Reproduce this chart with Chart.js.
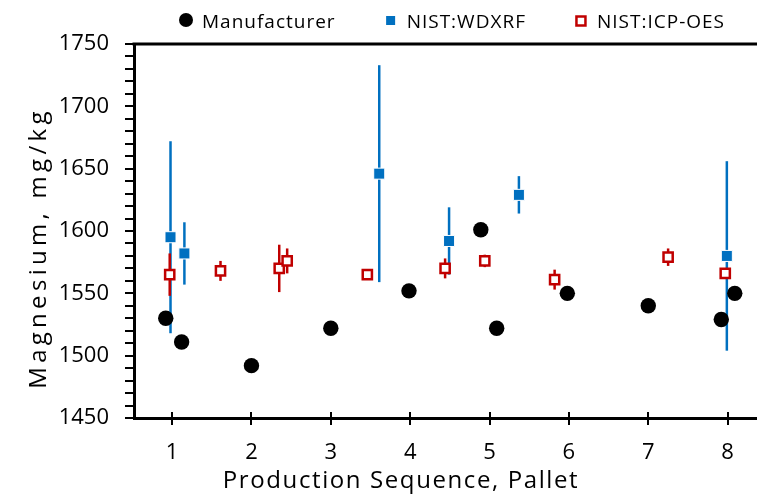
<!DOCTYPE html>
<html>
<head>
<meta charset="utf-8">
<script src="https://cdn.jsdelivr.net/npm/chart.js@4/dist/chart.umd.min.js"></script>
<style>
  html, body { margin: 0; padding: 0; background: #fff; }
  #wrap { width: 757px; height: 496px; }
</style>
</head>
<body>
<div id="wrap"><canvas id="chart"></canvas></div>
<script>
// Manufacturer values (no uncertainty)
const mfgX = [0.92, 1.12, 2.0, 3.0, 3.985, 4.89, 5.09, 5.98, 7.0, 7.92, 8.09];
const mfgY = [1530, 1511, 1492, 1522, 1552, 1601, 1522, 1550, 1540, 1529, 1550];

// NIST WDXRF with expanded uncertainty
const xrfX = [0.98, 1.155, 3.61, 4.49, 5.37, 7.99];
const xrfY = [1595, 1582, 1646, 1592, 1629, 1580];
const xrfErr = [77, 25, 87, 27, 15, 76];

// NIST ICP-OES with expanded uncertainty
const icpX = [0.97, 1.61, 2.35, 2.45, 3.46, 4.44, 4.94, 5.82, 7.25, 7.97];
const icpY = [1565, 1568, 1570, 1576, 1565, 1570, 1576, 1561, 1579, 1566];
const icpErr = [17, 8, 19, 10, 4, 8, 5, 8, 7, 4];

const seriesNames = ['Manufacturer', 'NIST:WDXRF', 'NIST:ICP-OES'];
const xTickMin = 0.52, xTickMax = 8.37;
const yMin = 1450, yMax = 1750;

const FONT = "'Open Sans', 'DejaVu Sans', sans-serif";
const BLUE = '#0070C0';
const RED = '#C00000';

function pts(xs, ys) {
    return xs.map((x, i) => ({ x: x, y: ys[i] }));
}

// vertical error bars, drawn under all markers
const errorBars = {
    id: 'errorBars',
    beforeDatasetsDraw(chart) {
        const { ctx, scales: { x, y } } = chart;
        chart.data.datasets.forEach(ds => {
            if (!ds.errors) return;
            ctx.save();
            ctx.strokeStyle = ds.errorColor;
            ctx.lineWidth = 2.5;
            ds.data.forEach((p, i) => {
                const px = x.getPixelForValue(p.x);
                ctx.beginPath();
                ctx.moveTo(px, y.getPixelForValue(p.y - ds.errors[i]));
                ctx.lineTo(px, y.getPixelForValue(p.y + ds.errors[i]));
                ctx.stroke();
            });
            ctx.restore();
        });
    }
};

// top frame line, crossing x ticks, axis titles and legend
const decorations = {
    id: 'decorations',
    afterDraw(chart) {
        const { ctx, chartArea: a, scales: { x } } = chart;
        ctx.save();
        ctx.strokeStyle = '#000';
        ctx.lineWidth = 3;
        ctx.beginPath();
        ctx.moveTo(a.left - 1.5, a.top);
        ctx.lineTo(chart.width, a.top);
        ctx.stroke();

        ctx.lineWidth = 2;
        x.ticks.forEach(t => {
            const px = Math.round(x.getPixelForValue(t.value));
            ctx.beginPath();
            ctx.moveTo(px, a.bottom - 6);
            ctx.lineTo(px, a.bottom);
            ctx.stroke();
        });

        // axis titles
        ctx.fillStyle = '#000';
        ctx.textAlign = 'center';
        ctx.textBaseline = 'alphabetic';
        ctx.font = '24px ' + FONT;
        ctx.letterSpacing = '1.6px';
        ctx.fillText('Production Sequence, Pallet', 401, 488);

        ctx.save();
        ctx.translate(46, 248);
        ctx.rotate(-Math.PI / 2);
        ctx.font = '24px ' + FONT;
        ctx.letterSpacing = '4.3px';
        ctx.fillText('Magnesium, mg/kg', 0, 0);
        ctx.restore();

        // legend
        ctx.font = '19px ' + FONT;
        ctx.letterSpacing = '1px';
        ctx.textAlign = 'left';
        let cx = 186;
        const cy = 21;
        chart.data.datasets.forEach((ds, i) => {
            if (i === 0) {
                ctx.fillStyle = '#000';
                ctx.beginPath();
                ctx.arc(cx, cy - 1, 7, 0, Math.PI * 2);
                ctx.fill();
            } else if (i === 1) {
                ctx.fillStyle = BLUE;
                ctx.fillRect(cx - 4.5, cy - 5, 9, 9);
            } else {
                ctx.fillStyle = '#fff';
                ctx.fillRect(cx - 4.5, cy - 4.5, 9, 9);
                ctx.strokeStyle = RED;
                ctx.lineWidth = 2.5;
                ctx.strokeRect(cx - 4.5, cy - 4.5, 9, 9);
            }
            ctx.fillStyle = '#000';
            const tx = cx + 16;
            ctx.fillText(ds.label, tx, 28);
            const w = ctx.measureText(ds.label).width;
            cx = tx + w + 55;
        });
        ctx.restore();
    }
};

new Chart(document.getElementById('chart'), {
    type: 'scatter',
    data: {
        datasets: [
            {
                label: seriesNames[0],
                data: pts(mfgX, mfgY),
                pointStyle: 'circle',
                pointRadius: 7.7,
                backgroundColor: '#000',
                borderColor: '#000',
                borderWidth: 0
            },
            {
                label: seriesNames[1],
                data: pts(xrfX, xrfY),
                errors: xrfErr,
                errorColor: BLUE,
                pointStyle: 'rect',
                pointRadius: 7.8,
                backgroundColor: BLUE,
                borderColor: '#fff',
                borderWidth: 1
            },
            {
                label: seriesNames[2],
                data: pts(icpX, icpY),
                errors: icpErr,
                errorColor: RED,
                pointStyle: 'rect',
                pointRadius: 6.5,
                backgroundColor: '#fff',
                borderColor: RED,
                borderWidth: 2.5
            }
        ]
    },
    options: {
        responsive: true,
        maintainAspectRatio: false,
        animation: false,
        events: [],
        layout: {
            autoPadding: false,
            padding: { top: 44, right: 0, left: 0, bottom: 0 }
        },
        plugins: {
            legend: { display: false },
            tooltip: { enabled: false }
        },
        scales: {
            x: {
                type: 'linear',
                min: xTickMin,
                max: xTickMax,
                ticks: {
                    stepSize: 1,
                    includeBounds: false,
                    color: '#000',
                    font: { family: FONT, size: 22 },
                    padding: 15
                },
                grid: {
                    drawOnChartArea: false,
                    drawTicks: true,
                    tickLength: 7,
                    color: '#000',
                    lineWidth: 2
                },
                border: { color: '#000', width: 3 },
                afterFit(scale) { scale.height = 78; }
            },
            y: {
                min: yMin,
                max: yMax,
                ticks: {
                    stepSize: 10,
                    autoSkip: false,
                    maxTicksLimit: 100,
                    color: '#000',
                    font: { family: FONT, size: 22 },
                    padding: 16,
                    callback: v => (v % 50 === 0 ? v : '')
                },
                grid: {
                    drawOnChartArea: false,
                    drawTicks: true,
                    tickLength: 9,
                    color: '#000',
                    lineWidth: 2
                },
                border: { color: '#000', width: 3 },
                afterFit(scale) { scale.width = 134; }
            }
        }
    },
    plugins: [errorBars, decorations]
});
</script>
</body>
</html>
